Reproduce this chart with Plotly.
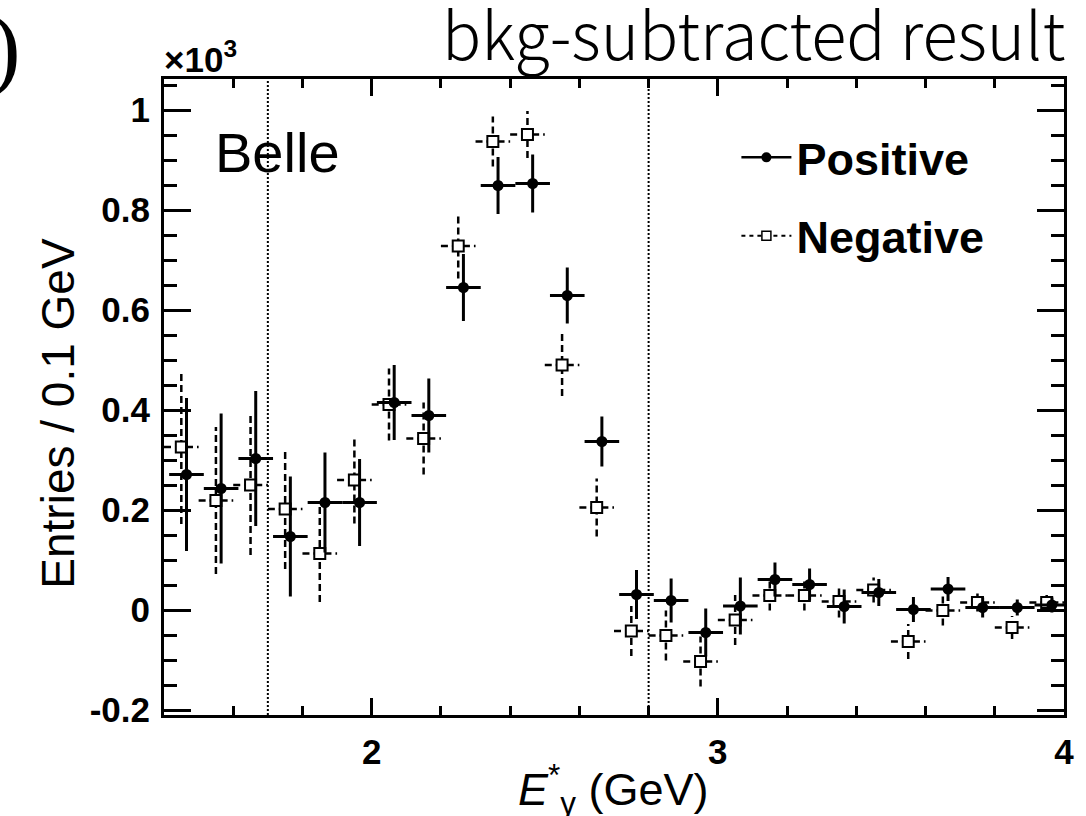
import plotly.graph_objects as go

# ---------------- data (values in units of 10^3 entries / 0.1 GeV) ----------------
bin_centers = [1.45, 1.55, 1.65, 1.75, 1.85, 1.95, 2.05, 2.15, 2.25, 2.35, 2.45, 2.55, 2.65,
               2.75, 2.85, 2.95, 3.05, 3.15, 3.25, 3.35, 3.45, 3.55, 3.65, 3.75, 3.85, 3.95]
pos_y = [0.271, 0.243, 0.303, 0.147, 0.215, 0.215, 0.415, 0.389, 0.645, 0.849, 0.853, 0.629, 0.337,
         0.031, 0.019, -0.045, 0.008, 0.061, 0.051, 0.007, 0.035, 0.001, 0.042, 0.005, 0.005, 0.010]
pos_err = [0.153, 0.150, 0.135, 0.120, 0.100, 0.087, 0.075, 0.074, 0.067, 0.057, 0.058, 0.056, 0.050,
           0.049, 0.044, 0.048, 0.057, 0.034, 0.032, 0.034, 0.027, 0.025, 0.024, 0.020, 0.016, 0.015]
neg_y = [0.326, 0.219, 0.250, 0.202, 0.113, 0.260, 0.411, 0.343, 0.728, 0.937, 0.951, 0.490, 0.205,
         -0.042, -0.051, -0.103, -0.020, 0.029, 0.029, 0.017, 0.040, -0.063, -0.001, 0.015, -0.035, 0.015]
neg_err = [0.154, 0.147, 0.140, 0.120, 0.097, 0.087, 0.072, 0.072, 0.065, 0.050, 0.047, 0.062, 0.058,
           0.050, 0.050, 0.050, 0.050, 0.030, 0.030, 0.032, 0.025, 0.035, 0.030, 0.018, 0.023, 0.015]
cut_lines = [1.7, 2.8]
x_tick_vals = [2, 3, 4]
x_tick_text = ["2", "3", "4"]
y_tick_vals = [-0.2, 0.0, 0.2, 0.4, 0.6, 0.8, 1.0]
y_tick_text = ["-0.2", "0", "0.2", "0.4", "0.6", "0.8", "1"]

# ---------------- styling ----------------
half_bin = 0.05
pos_shift = 0.015
neg_shift = 0.0
SANS = "Liberation Sans, Arial, Helvetica, sans-serif"
NEG_DASH = "7px,4px"


def err_segments(xs, ys, es):
    ex, ey = [], []
    for x, y, e in zip(xs, ys, es):
        ex += [x, x, None, x - half_bin, x + half_bin, None]
        ey += [y - e, y + e, None, y, y, None]
    return ex, ey


pos_x = [c + pos_shift for c in bin_centers]
neg_x = [c + neg_shift for c in bin_centers]

fig = go.Figure()

nex, ney = err_segments(neg_x, neg_y, neg_err)
fig.add_trace(go.Scatter(x=nex, y=ney, mode="lines", showlegend=False, hoverinfo="skip",
                         line=dict(color="black", width=2.5, dash=NEG_DASH)))
fig.add_trace(go.Scatter(x=neg_x, y=neg_y, mode="markers", showlegend=False,
                         marker=dict(symbol="square", size=11, color="white",
                                     line=dict(color="black", width=2))))

pex, pey = err_segments(pos_x, pos_y, pos_err)
fig.add_trace(go.Scatter(x=pex, y=pey, mode="lines", showlegend=False, hoverinfo="skip",
                         line=dict(color="black", width=3)))
fig.add_trace(go.Scatter(x=pos_x, y=pos_y, mode="markers", showlegend=False,
                         marker=dict(symbol="circle", size=11, color="black")))

# legend entries
fig.add_trace(go.Scatter(x=[None], y=[None], mode="lines+markers", name="Positive",
                         legendgroup="p", line=dict(color="black", width=2.5),
                         marker=dict(symbol="circle", size=10, color="black")))
fig.add_trace(go.Scatter(x=[None], y=[None], mode="lines+markers", name="Negative",
                         legendgroup="n", line=dict(color="black", width=2, dash="4px,4px"),
                         marker=dict(symbol="square", size=9, color="white",
                                     line=dict(color="black", width=1.5))))

for cx in cut_lines:
    fig.add_shape(type="line", xref="x", yref="paper", x0=cx, x1=cx, y0=0, y1=1,
                  line=dict(color="black", width=2, dash="2px,2px"), layer="below")

axis_common = dict(showline=True, linewidth=3, linecolor="black", mirror="allticks",
                   ticks="inside", tickcolor="black", tickwidth=3,
                   showgrid=False, zeroline=False,
                   tickfont=dict(family=SANS, size=35, color="black", weight="bold"))

fig.update_xaxes(range=[1.4, 4.0], tickmode="array", tickvals=x_tick_vals, ticktext=x_tick_text,
                 ticklen=17, ticklabelstandoff=4,
                 minor=dict(ticks="inside", tick0=0, dtick=0.2, ticklen=9, tickwidth=3,
                            tickcolor="black", showgrid=False),
                 **axis_common)
fig.update_yaxes(range=[-0.21, 1.062], tickmode="array", tickvals=y_tick_vals, ticktext=y_tick_text,
                 ticklen=27, ticklabelstandoff=4,
                 minor=dict(ticks="inside", tick0=0, dtick=0.05, ticklen=13, tickwidth=3,
                            tickcolor="black", showgrid=False),
                 **axis_common)

annotations = [
    dict(text="bkg-subtracted result", xref="paper", yref="paper", x=1.003, y=1.0,
         xanchor="right", yanchor="bottom", yshift=-2, showarrow=False,
         font=dict(family="Noto Sans CJK KR Light, Noto Sans CJK KR DemiLight, Noto Sans CJK KR",
                   size=65, color="black", weight=300)),
    dict(text=")", xref="paper", yref="paper", x=-0.157, y=1.0, xanchor="right",
         yanchor="bottom", yshift=-21, showarrow=False,
         font=dict(family="Liberation Serif, Times New Roman, serif", size=92, color="black")),
    dict(text="×10<sup>3</sup>", xref="paper", yref="paper", x=-0.002, y=1.0,
         xanchor="left", yanchor="bottom", yshift=-2, showarrow=False,
         font=dict(family=SANS, size=35, color="black", weight="bold")),
    dict(text="Belle", xref="paper", yref="paper", x=0.054, y=0.884, xanchor="left",
         yanchor="middle", showarrow=False,
         font=dict(family=SANS, size=56, color="black")),
    dict(text="Entries / 0.1 GeV", xref="paper", yref="paper", x=-0.118, y=0.475,
         xanchor="center", yanchor="middle", textangle=-90, showarrow=False,
         font=dict(family=SANS, size=46, color="black")),
    dict(text="<i>E</i><sup>*</sup><sub>γ</sub> (GeV)", xref="paper", yref="paper",
         x=0.499, y=-0.118, xanchor="center", yanchor="middle", yshift=1, showarrow=False,
         font=dict(family=SANS, size=45, color="black")),
]

fig.update_layout(
    width=1086, height=816,
    margin=dict(l=164, r=18, t=79, b=101),
    paper_bgcolor="white", plot_bgcolor="white",
    annotations=annotations,
    showlegend=True,
    legend=dict(x=0.636, y=0.933, xanchor="left", yanchor="top", bgcolor="rgba(0,0,0,0)",
                font=dict(family=SANS, size=45, color="black", weight="bold"),
                itemwidth=50, tracegroupgap=17, traceorder="grouped"),
)

fig.write_html("out.html", config=dict(displayModeBar=False),
               post_script="document.body.style.margin='0';document.body.style.overflow='hidden';")
